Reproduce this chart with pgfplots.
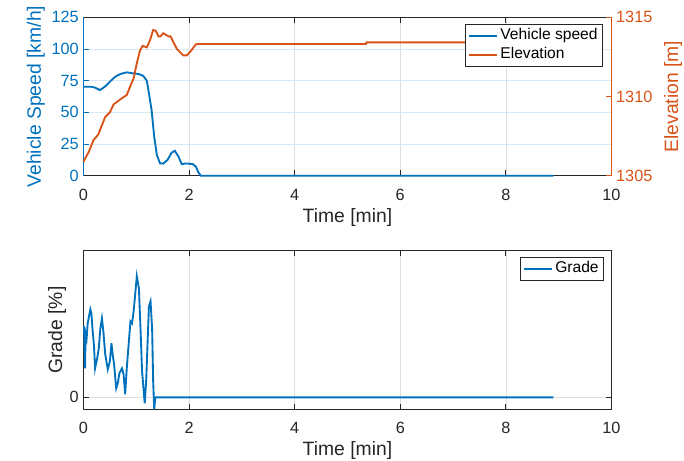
\documentclass[border=0pt]{standalone}
\usepackage{fontspec}
\setmainfont{Liberation Sans}
\usepackage{pgfplots}
\pgfplotsset{compat=1.18}
\definecolor{mblue}{rgb}{0,0.447,0.741}
\definecolor{morange}{rgb}{0.85,0.325,0.098}
\definecolor{axgray}{rgb}{0.15,0.15,0.15}
\pgfplotsset{
 base/.style={scale only axis, width=396pt, xmin=0, xmax=10, clip=false,
  tick align=inside, major tick length=4pt,
  /pgf/number format/assume math mode=true, /pgf/number format/1000 sep={},
  tick label style={font=\fontsize{12.2}{14}\selectfont},
  label style={font=\fontsize{14.5}{17}\selectfont},
  legend image code/.code={\draw[#1] (0pt,0pt) -- (21pt,0pt);},
  legend cell align=left,
 },
 xbase/.style={xtick={0,2,...,10}, xtick pos=both,
  xticklabel style={anchor=base, yshift=-18.2pt, text=axgray},
  xlabel={Time [min]},
  major x tick style={draw=axgray, line width=0.6pt},
 },
 legbase/.style={legend style={draw=axgray, line width=0.6pt, fill=white,
   font=\fontsize{11.7}{14}\selectfont,
   inner xsep=1.8pt, inner ysep=1.7pt, row sep=0.45pt,
   nodes={inner ysep=1.3pt, inner xsep=2pt, text height=8.6pt, text depth=2.6pt}}},
}
\begin{document}
\begin{tikzpicture}
\useasboundingbox (0,0) rectangle (513pt,-345pt);
% ---------------- top: speed (left axis)
\begin{axis}[base, xbase, at={(62.6pt,-131.8pt)}, anchor=south west, height=118.8pt,
 ymin=0, ymax=125, ytick={0,25,...,125}, ytick pos=left,
 axis x line*=box, axis y line*=left,
 x axis line style={draw=axgray, line width=0.6pt, -},
 y axis line style={draw=mblue, line width=0.6pt, -},
 major y tick style={draw=mblue, line width=0.6pt},
 yticklabel style={text=mblue},
 xmajorgrids, ymajorgrids,
 major x grid style={black!13, line width=0.5pt},
 major y grid style={mblue!16, line width=0.5pt},
 xlabel style={at={(axis description cs:0.5,-0.2946)}, anchor=base, text=axgray},
 ylabel={Vehicle Speed [km/h]},
 ylabel style={at={(axis description cs:-0.0808,0.5)}, rotate=0, anchor=base, text=mblue},
]
\addplot[mblue, line width=1.4pt] coordinates {
(0,70.2) (0.15,70.2) (0.22,69.5) (0.31,67.6) (0.38,69.5) (0.44,71.6) (0.52,75)
(0.60,78.1) (0.70,80.3) (0.82,81.6) (0.94,80.8) (1.04,80.3) (1.13,78.9) (1.20,75)
(1.24,65) (1.29,51.8) (1.34,30.8) (1.39,16.3) (1.45,9.8) (1.51,9.6) (1.59,12.4)
(1.67,18.2) (1.73,19.7) (1.80,15) (1.86,9.2) (1.95,9.7) (2.07,9.2) (2.13,7.1)
(2.17,3.2) (2.22,0) (8.9,0)
};
\end{axis}
% ---------------- top: elevation (right axis)
\begin{axis}[base, legbase, at={(62.6pt,-131.8pt)}, anchor=south west, height=118.8pt,
 ymin=1305, ymax=1315, ytick={1305,1310,1315}, ytick pos=right,
 axis x line=none, axis y line*=right, xtick=\empty,
 y axis line style={draw=morange, line width=0.6pt, -},
 major y tick style={draw=morange, line width=0.6pt},
 yticklabel style={text=morange},
 ylabel={Elevation [m]},
 ylabel style={at={(axis description cs:1.1263,0.5)}, rotate=0, anchor=base, text=morange},
 legend style={at={(axis description cs:0.984,0.958)}, anchor=north east},
]
\addlegendimage{mblue, line width=1.4pt}
\addlegendentry{Vehicle speed}
\addplot[morange, line width=1.4pt] coordinates {
(0,1305.88) (0.05,1306.2) (0.10,1306.5) (0.19,1307.25) (0.28,1307.6) (0.35,1308.2)
(0.41,1308.7) (0.50,1309.0) (0.57,1309.5) (0.65,1309.7) (0.73,1309.9) (0.82,1310.1)
(0.88,1310.6) (0.95,1311.15) (1.01,1312.1) (1.07,1312.9) (1.12,1313.2) (1.20,1313.1)
(1.26,1313.55) (1.32,1314.2) (1.37,1314.15) (1.42,1313.8) (1.46,1313.8) (1.51,1314.0)
(1.56,1313.9) (1.61,1313.8) (1.65,1313.8) (1.70,1313.45) (1.77,1313.0) (1.83,1312.8)
(1.89,1312.6) (1.96,1312.6) (2.04,1312.9) (2.13,1313.3) (2.20,1313.32) (5.35,1313.32)
(5.36,1313.42) (8.9,1313.42)
};
\addlegendentry{Elevation}
\end{axis}
% ---------------- bottom: grade
\begin{axis}[base, xbase, legbase, at={(62.6pt,-307pt)}, anchor=south west, height=119pt,
 ymin=-1.2, ymax=14.66, ytick={0}, ytick pos=both,
 axis line style={draw=axgray, line width=0.6pt},
 major y tick style={draw=axgray, line width=0.6pt},
 yticklabel style={text=axgray},
 xmajorgrids, ymajorgrids,
 major grid style={black!13, line width=0.5pt},
 xlabel style={at={(axis description cs:0.5,-0.294)}, anchor=base, text=axgray},
 ylabel={Grade [\%]},
 ylabel style={at={(axis description cs:-0.0404,0.5)}, rotate=0, anchor=base, text=axgray},
 legend style={at={(axis description cs:0.986,0.96)}, anchor=north east},
]
\addplot[mblue, line width=1.4pt] coordinates {
(0.01,7.1) (0.03,2.9) (0.04,6.4) (0.06,5.9) (0.08,7.4) (0.13,8.8) (0.15,8.4) (0.17,6.9)
(0.20,5.1) (0.22,2.9) (0.26,3.9) (0.29,4.9) (0.32,6.9) (0.35,7.9) (0.38,6.4) (0.41,4.4)
(0.46,2.8) (0.50,3.6) (0.53,5.4) (0.55,4.4) (0.58,3.3) (0.62,0.9) (0.65,1.4) (0.68,2.4)
(0.73,2.9) (0.76,2.3) (0.79,0.3) (0.82,2.9) (0.86,5.6) (0.89,7.6) (0.92,7.4) (0.95,8.6)
(0.98,10.3) (1.01,12.1) (1.05,10.9) (1.08,6.9) (1.11,2.6) (1.16,-0.6) (1.19,1.9)
(1.22,6.3) (1.24,9.1) (1.27,9.6) (1.30,6.9) (1.32,1.6) (1.34,-1.2) (1.36,0) (8.9,0)
};
\addlegendentry{Grade}
\end{axis}
\end{tikzpicture}
\end{document}
